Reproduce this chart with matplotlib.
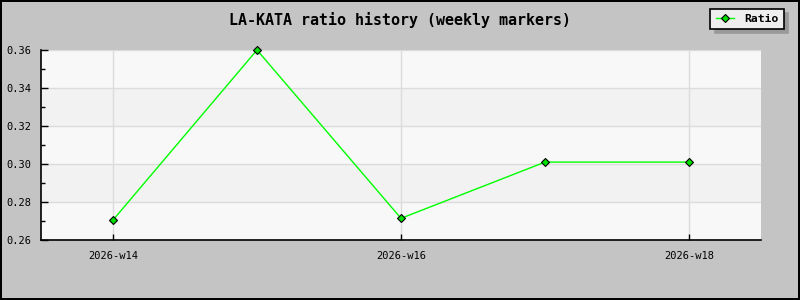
import matplotlib
matplotlib.use("Agg")
import matplotlib.pyplot as plt
from matplotlib.ticker import MultipleLocator, FixedLocator

weeks = ["2026-w14", "2026-w15", "2026-w16", "2026-w17", "2026-w18"]
ratio = [0.2705, 0.3600, 0.2714, 0.3010, 0.3010]
title = "LA-KATA ratio history (weekly markers)"
series_name = "Ratio"

mono = ["DejaVu Sans Mono"]

fig = plt.figure(figsize=(8, 3), dpi=100)
fig.patch.set_facecolor("#c4c4c4")
fig.patch.set_edgecolor("black")
fig.patch.set_linewidth(1.5)

ax = fig.add_axes([41/800, 60/300, 720/800, 190/300])
ax.set_facecolor("#f8f8f8")
x = list(range(len(weeks)))
ax.set_xlim(-0.5, len(weeks) - 0.5)
ax.set_ylim(0.26, 0.36)

# alternating bands
yt = [0.26, 0.28, 0.30, 0.32, 0.34, 0.36]
for i in range(len(yt) - 1):
    if i % 2 == 1:
        ax.axhspan(yt[i], yt[i+1], color="#f2f2f2", zorder=0, lw=0)

ax.yaxis.set_major_locator(MultipleLocator(0.02))
ax.yaxis.set_minor_locator(MultipleLocator(0.01))
ax.yaxis.set_major_formatter(matplotlib.ticker.FormatStrFormatter("%.2f"))
ax.xaxis.set_major_locator(FixedLocator([0, 2, 4]))
ax.set_xticklabels([weeks[0], weeks[2], weeks[4]])

ax.grid(True, which="major", color="#dcdcdc", lw=1, zorder=1)
ax.set_axisbelow(True)

ax.plot(x, ratio, color="#00ff00", lw=1, marker="D", markersize=4.5,
        markerfacecolor="#00e000", markeredgecolor="black", markeredgewidth=0.8,
        label=series_name, zorder=3, clip_on=False)

for s in ["top", "right"]:
    ax.spines[s].set_visible(False)
for s in ["left", "bottom"]:
    ax.spines[s].set_color("black")
    ax.spines[s].set_linewidth(1.2)

ax.tick_params(axis="y", which="major", direction="in", length=5, width=1, pad=7,
               labelsize=7.5, colors="black")
ax.tick_params(axis="y", which="minor", direction="in", length=3, width=1)
ax.tick_params(axis="x", which="major", direction="in", length=4, width=1, pad=8,
               labelsize=7.5, colors="black")
for lab in ax.get_xticklabels() + ax.get_yticklabels():
    lab.set_family(mono)

fig.text(0.5, 1 - 20/300, title, ha="center", va="center",
         family=mono, fontweight="bold", fontsize=10.8)

leg = ax.legend(loc="upper right", bbox_to_anchor=(783.5/800, 1 - 9/300),
                bbox_transform=fig.transFigure, borderaxespad=0,
                prop={"family": mono, "weight": "bold", "size": 8.2},
                frameon=True, fancybox=False, framealpha=1,
                facecolor="#eeeeee", edgecolor="black",
                shadow={"ox": 3, "oy": -3, "color": "#999999", "alpha": 1},
                handlelength=1.6, handletextpad=0.9, borderpad=0.45)
leg.get_frame().set_linewidth(1.2)

fig.savefig("out.png", dpi=100, facecolor=fig.get_facecolor(), edgecolor=fig.get_edgecolor())
